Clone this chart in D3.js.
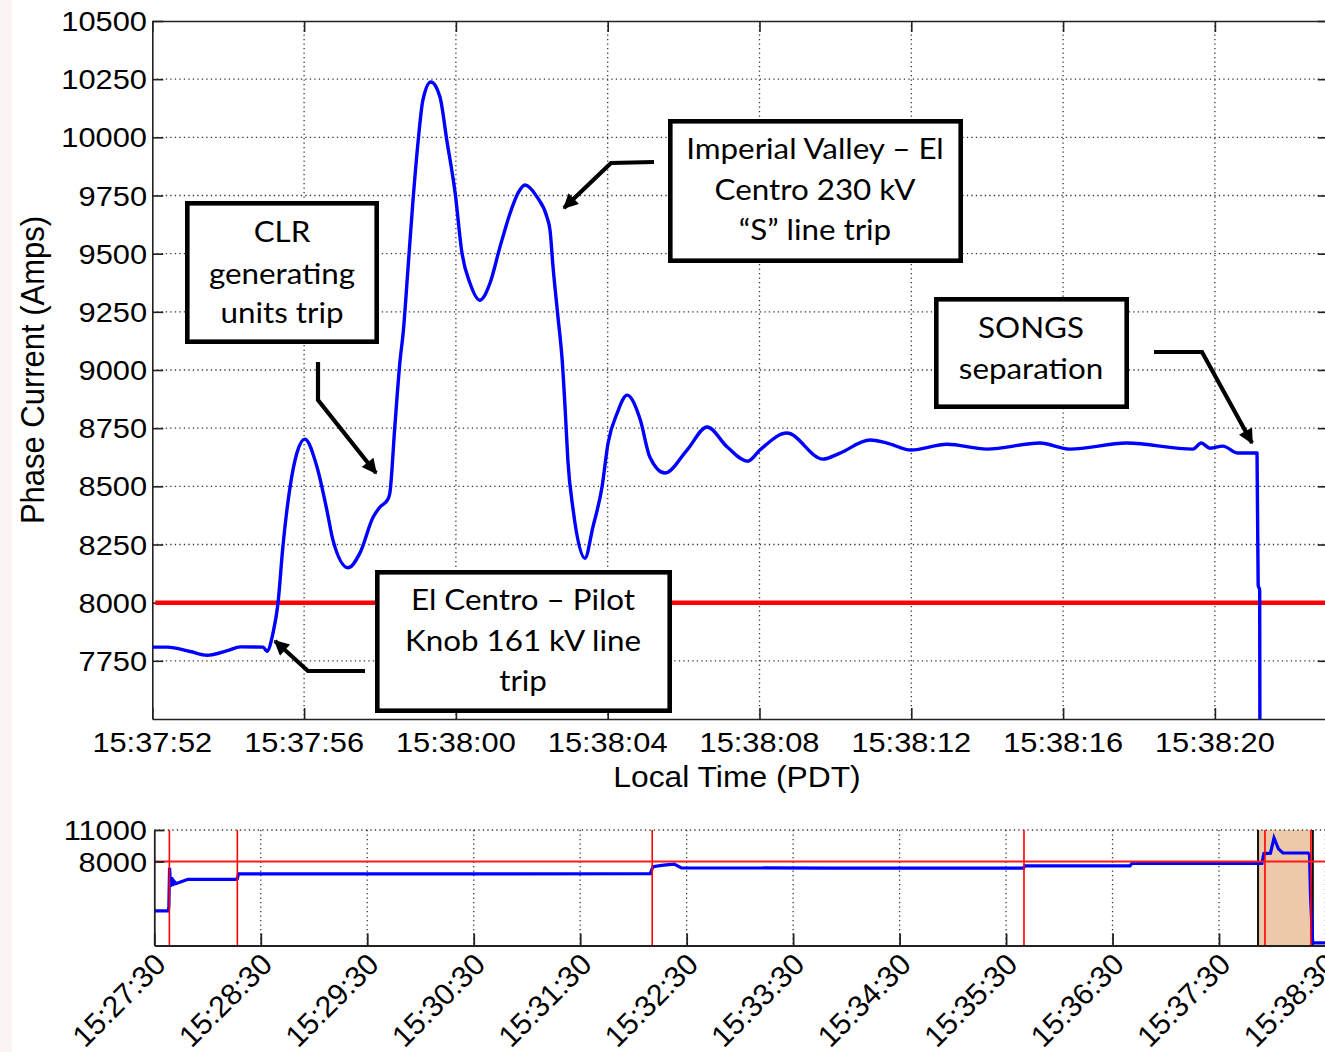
<!DOCTYPE html>
<html><head><meta charset="utf-8">
<script src="https://cdn.jsdelivr.net/npm/d3@7"></script>
<style>
html,body{margin:0;padding:0;background:#fff;}
svg{display:block;}
text{font-family:"Liberation Sans",Arial,sans-serif;fill:#000;}
.ann{font-family:Lato,"Open Sans",sans-serif;}
</style></head><body>
<svg id="chart" width="1325" height="1052"></svg>
<script>
// ---------------- DATA ----------------
// main chart: seconds after 15:37:00
const xTickValues = [52, 56, 60, 64, 68, 72, 76, 80];
const xTickLabels = ["15:37:52","15:37:56","15:38:00","15:38:04","15:38:08","15:38:12","15:38:16","15:38:20"];
const yTickValues = [7750, 8000, 8250, 8500, 8750, 9000, 9250, 9500, 9750, 10000, 10250, 10500];
const yTickLabels = ["7750","8000","8250","8500","8750","9000","9250","9500","9750","10000","10250","10500"];
const mainTime = [52.0,52.4,53.0,53.44,54.0,54.32,54.92,55.02,55.18,55.31,55.44,55.63,55.81,56.02,56.34,56.60,56.76,57.16,57.47,57.82,58.00,58.21,58.26,58.39,58.53,58.61,58.74,58.87,59.00,59.13,59.34,59.58,59.76,59.98,60.16,60.37,60.63,60.90,61.16,61.43,61.64,61.82,62.14,62.40,62.48,62.56,62.69,62.80,62.88,62.95,63.09,63.40,63.61,63.85,64.01,64.25,64.51,64.86,65.11,65.51,66.09,66.62,67.15,67.69,68.01,68.72,69.67,70.12,70.91,71.36,71.99,72.94,73.99,75.39,76.18,77.68,79.42,79.64,79.87,80.21,80.61,81.11,81.14,81.18,81.21];
const mainCurrent = [7809,7809,7790,7774,7795,7810,7809,7791,7869,7994,8239,8497,8643,8703,8583,8398,8269,8150,8213,8368,8411,8445,8471,8755,9043,9159,9442,9730,9975,10160,10238,10173,9988,9761,9503,9374,9300,9374,9528,9675,9761,9795,9743,9657,9601,9442,9227,9043,8828,8613,8398,8191,8325,8497,8686,8815,8892,8785,8626,8557,8656,8755,8669,8608,8656,8729,8617,8643,8699,8686,8656,8681,8660,8686,8660,8686,8660,8686,8664,8673,8643,8643,8075,8054,5000];
const threshold = 8000;

// overview chart: seconds after 15:27:30
const ovTickValues = [0, 60, 120, 180, 240, 300, 360, 420, 480, 540, 600, 660];
const ovTickLabels = ["15:27:30","15:28:30","15:29:30","15:30:30","15:31:30","15:32:30","15:33:30","15:34:30","15:35:30","15:36:30","15:37:30","15:38:30"];
const ovYTickValues = [8000, 11000];
const ovYTickLabels = ["8000", "11000"];
const ovTime = [0,7.9,8.2,8.6,9.2,9.8,10.4,11.2,12.2,14,19,30,45.8,46.8,47.4,120,200,279.5,281,287,293,297,380,489.8,490.6,549.8,551,600,624.2,625.3,629,631,633.5,636,650.2,651,651.6,652.8,660];
const ovCurrent = [3300,3300,3700,7400,5600,6500,5700,6100,5900,6000,6300,6300,6300,6350,6820,6830,6830,6850,7500,7650,7750,7400,7370,7360,7580,7580,7830,7830,7830,8750,8790,10240,9200,8810,8810,8650,4600,250,250];
const ovEventTimes = [8.5, 46.8, 280.6, 490.1, 625.9, 651.8];
const windowStart = 622, windowEnd = 652.9;

// annotation texts
const annCLR = ["CLR", "generating", "units trip"];
const annIV = ["Imperial Valley \u2013 El", "Centro 230 kV", "\u201CS\u201D line trip"];
const annSONGS = ["SONGS", "separation"];
const annEC = ["El Centro \u2013 Pilot", "Knob 161 kV line", "trip"];

// ---------------- DRAW ----------------
const svg = d3.select("#chart");
const SX = 1.1;
function stext(g, x, yy, s, size, anchor, sx, cls) {
  return g.append("text").attr("class", cls || null)
    .attr("transform", `translate(${x},${yy}) scale(${sx},1)`)
    .attr("text-anchor", anchor).style("font-size", size + "px")
    .style("white-space", "pre").text(s);
}

// faint pink strip at left edge
svg.append("rect").attr("x",0).attr("y",0).attr("width",12).attr("height",1052).attr("fill","#fcf3f3");

// ---- main chart ----
const L = 152.3, T = 21, B = 719;
const x = d3.scaleLinear().domain([52, 83]).range([L, L + 31 * 37.95]);
const y = d3.scaleLinear().domain([7500, 10500]).range([B, T]);
const R = x(83);

const defs = svg.append("defs");
defs.append("clipPath").attr("id","mainclip").append("rect")
  .attr("x", L).attr("y", T).attr("width", R - L).attr("height", B - T);
defs.append("marker").attr("id","arrow").attr("viewBox","0 0 10 10")
  .attr("refX", 9).attr("refY", 5).attr("markerWidth", 17).attr("markerHeight", 15)
  .attr("markerUnits","userSpaceOnUse").attr("orient","auto")
  .append("path").attr("d","M0,0 L10,5 L0,10 Z").attr("fill","#000");

const grid = svg.append("g").attr("stroke","#333").attr("stroke-width",1.3).attr("stroke-dasharray","1.3,3.2");
xTickValues.filter(v => v !== 52).forEach(v => grid.append("line")
  .attr("x1", x(v)).attr("x2", x(v)).attr("y1", T).attr("y2", B));
yTickValues.filter(v => v !== 10500).forEach(v => grid.append("line")
  .attr("x1", L).attr("x2", R).attr("y1", y(v)).attr("y2", y(v)));

function styleAxis(g, w) {
  g.select(".domain").attr("stroke","#222").attr("stroke-width", w);
  g.selectAll(".tick line").attr("stroke","#222").attr("stroke-width", w);
  g.selectAll(".tick text").remove();
}
svg.append("g").attr("transform",`translate(0,${B})`)
  .call(d3.axisBottom(x).tickValues(xTickValues).tickSizeInner(-11).tickSizeOuter(0).tickFormat(""))
  .call(g => styleAxis(g, 1.6));
svg.append("g").attr("transform",`translate(0,${T})`)
  .call(d3.axisTop(x).tickValues(xTickValues).tickSizeInner(-11).tickSizeOuter(0).tickFormat(""))
  .call(g => styleAxis(g, 1.6));
svg.append("g").attr("transform",`translate(${L},0)`)
  .call(d3.axisLeft(y).tickValues(yTickValues).tickSizeInner(-11).tickSizeOuter(0).tickFormat(""))
  .call(g => styleAxis(g, 1.6));
svg.append("g").attr("transform",`translate(${R},0)`)
  .call(d3.axisRight(y).tickValues(yTickValues).tickSizeInner(-11).tickSizeOuter(0).tickFormat(""))
  .call(g => styleAxis(g, 1.6));

// tick labels
xTickValues.forEach((v, i) => stext(svg, x(v), 752, xTickLabels[i], 28, "middle", SX));
yTickValues.forEach((v, i) => stext(svg, 147, y(v) + 10, yTickLabels[i], 28, "end", SX));
// axis titles
stext(svg, 737, 787, "Local Time (PDT)", 30, "middle", 1.06);
svg.append("text").attr("transform", `translate(44,${(T + B) / 2}) rotate(-90) scale(1,1.08)`)
  .attr("text-anchor","middle").style("font-size","31px").text("Phase Current (Amps)");

// threshold line
svg.append("line").attr("x1", L + 3).attr("x2", R).attr("y1", y(threshold)).attr("y2", y(threshold))
  .attr("stroke","#ff0000").attr("stroke-width",4.5);

// current line
const mainData = mainTime.map((t, i) => [t, mainCurrent[i]]);
svg.append("path").attr("clip-path","url(#mainclip)")
  .attr("d", d3.line().x(d => x(d[0])).y(d => y(d[1])).curve(d3.curveMonotoneX)(mainData))
  .attr("fill","none").attr("stroke","#0000ff").attr("stroke-width",3.4).attr("stroke-linejoin","round");

// annotation boxes
function box(x0, y0, x1, y1, lines, baselines, cx, size) {
  const sw = 4.6;
  svg.append("rect").attr("x", x0 + sw/2).attr("y", y0 + sw/2)
    .attr("width", x1 - x0 - sw).attr("height", y1 - y0 - sw)
    .attr("fill","#fff").attr("stroke","#000").attr("stroke-width", sw);
  lines.forEach((s, i) => stext(svg, cx, baselines[i], s, size, "middle", 1.1, "ann"));
}
box(185, 201, 379, 344, annCLR, [242, 284, 323], 282, 28.5);
box(668, 119, 963, 263, annIV, [159, 200, 240], 815, 28.5);
box(934, 297, 1129, 409, annSONGS, [338, 379], 1031, 28.5);
box(375, 570, 672, 713, annEC, [610, 651, 691], 523, 28.5);

// arrows
const arrows = [
  [[318, 362], [318, 400], [376, 473]],
  [[654, 162], [611, 163], [564, 208]],
  [[1154, 352], [1202, 352], [1252, 443]],
  [[365, 671], [308, 671], [275, 641]]
];
arrows.forEach(pts => svg.append("path").attr("d", d3.line()(pts))
  .attr("fill","none").attr("stroke","#000").attr("stroke-width",4.2).attr("marker-end","url(#arrow)"));

// ---- overview chart ----
const OL = 154.3, OT = 830, OB = 945.5;
const xo = d3.scaleLinear().domain([0, 660]).range([OL, OL + 660 * 1.7745]);
const yo = d3.scaleLinear().domain([0, 11000]).range([OB, OT]);
const OR = xo(660) + 5;

svg.append("rect").attr("x", xo(windowStart)).attr("y", OT)
  .attr("width", xo(windowEnd) - xo(windowStart)).attr("height", OB - OT).attr("fill","#edc9a9");

const og = svg.append("g").attr("stroke","#333").attr("stroke-width",1.3).attr("stroke-dasharray","1.3,3.2");
ovTickValues.filter(v => v !== 0).forEach(v => og.append("line")
  .attr("x1", xo(v)).attr("x2", xo(v)).attr("y1", OT).attr("y2", OB));
og.append("line").attr("x1", OL).attr("x2", OR).attr("y1", yo(11000)).attr("y2", yo(11000));

[windowStart, windowEnd].forEach(t => svg.append("line").attr("x1", xo(t)).attr("x2", xo(t))
  .attr("y1", OT).attr("y2", OB).attr("stroke","#111").attr("stroke-width",2));

const ovData = ovTime.map((t, i) => [t, ovCurrent[i]]);
svg.append("path").attr("d", d3.line().x(d => xo(d[0])).y(d => yo(d[1]))(ovData))
  .attr("fill","none").attr("stroke","#0000ff").attr("stroke-width",3.2);

ovEventTimes.forEach(t => svg.append("line").attr("x1", xo(t)).attr("x2", xo(t))
  .attr("y1", OT).attr("y2", OB).attr("stroke","#ff0000").attr("stroke-width",1.6));
svg.append("line").attr("x1", OL).attr("x2", OR).attr("y1", yo(threshold)).attr("y2", yo(threshold))
  .attr("stroke","#ff1a1a").attr("stroke-width",1.8);

svg.append("g").attr("transform",`translate(0,${OB})`)
  .call(d3.axisBottom(xo).tickValues(ovTickValues).tickSizeInner(-12).tickSizeOuter(0).tickFormat(""))
  .call(g => styleAxis(g, 1.8));
svg.append("g").attr("transform",`translate(${OL},0)`)
  .call(d3.axisLeft(yo).tickValues(ovYTickValues).tickSizeInner(-10).tickSizeOuter(0).tickFormat(""))
  .call(g => styleAxis(g, 1.8));

ovYTickValues.forEach((v, i) => stext(svg, 147, yo(v) + 10, ovYTickLabels[i], 28, "end", SX));
ovTickValues.forEach((v, i) => svg.append("text")
  .attr("transform", `translate(${xo(v) - 2},${951}) rotate(-45)`)
  .attr("text-anchor","end").attr("dy","0.72em").style("font-size","30px").text(ovTickLabels[i]));
</script>
</body></html>
